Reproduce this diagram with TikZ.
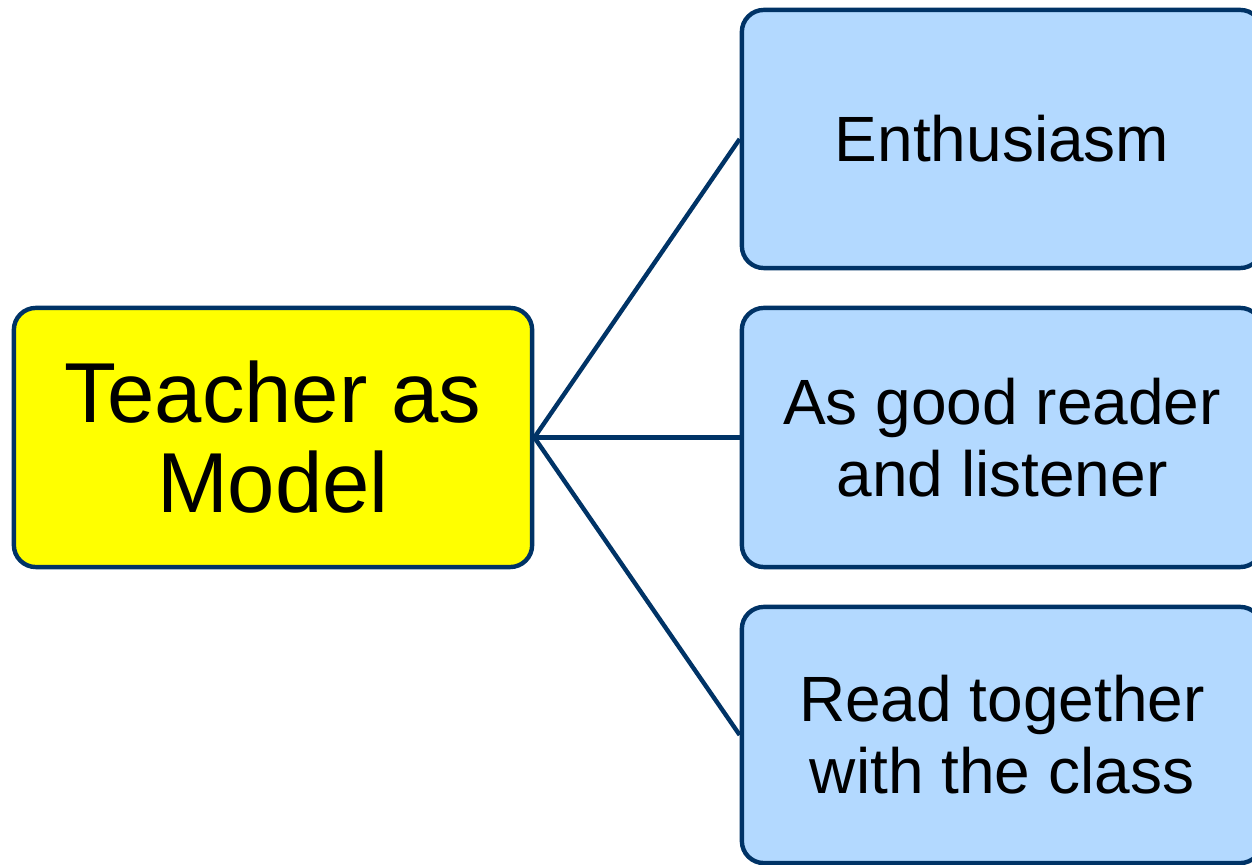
\documentclass[tikz,border=0pt]{standalone}
\usepackage{fontspec}
\setmainfont{Liberation Sans}
\definecolor{bordercol}{RGB}{0,51,102}
\definecolor{lightblue}{RGB}{179,217,255}
\definecolor{yel}{RGB}{255,255,0}
\begin{document}
\begin{tikzpicture}[x=0.01cm,y=-0.01cm,
  box/.style={draw=bordercol,line width=1.25pt,rounded corners=0.22cm,align=center,inner sep=0pt},
  rootbox/.style={box,fill=yel,minimum width=5.18cm,minimum height=2.59cm,font=\fontsize{24.2}{25.6}\selectfont},
  leafbox/.style={box,fill=lightblue,minimum width=5.2cm,font=\fontsize{18.2}{20.5}\selectfont},
  link/.style={draw=bordercol,line width=1.25pt}]
\useasboundingbox (0,0) rectangle (1252,865);
\clip (0,0) rectangle (1252,865);
\node[rootbox] (root) at (273,437.5) {Teacher as\\Model};
\node[leafbox,minimum height=2.58cm] (a) at (1002,139) {Enthusiasm};
\node[leafbox,minimum height=2.59cm] (b) at (1002,437.5) {As good reader\\and listener};
\node[leafbox,minimum height=2.56cm] (c) at (1002,735) {Read together\\with the class};
\draw[link] (root.east) -- (a.west);
\draw[link] (root.east) -- (b.west);
\draw[link] (root.east) -- (c.west);
\end{tikzpicture}
\end{document}
